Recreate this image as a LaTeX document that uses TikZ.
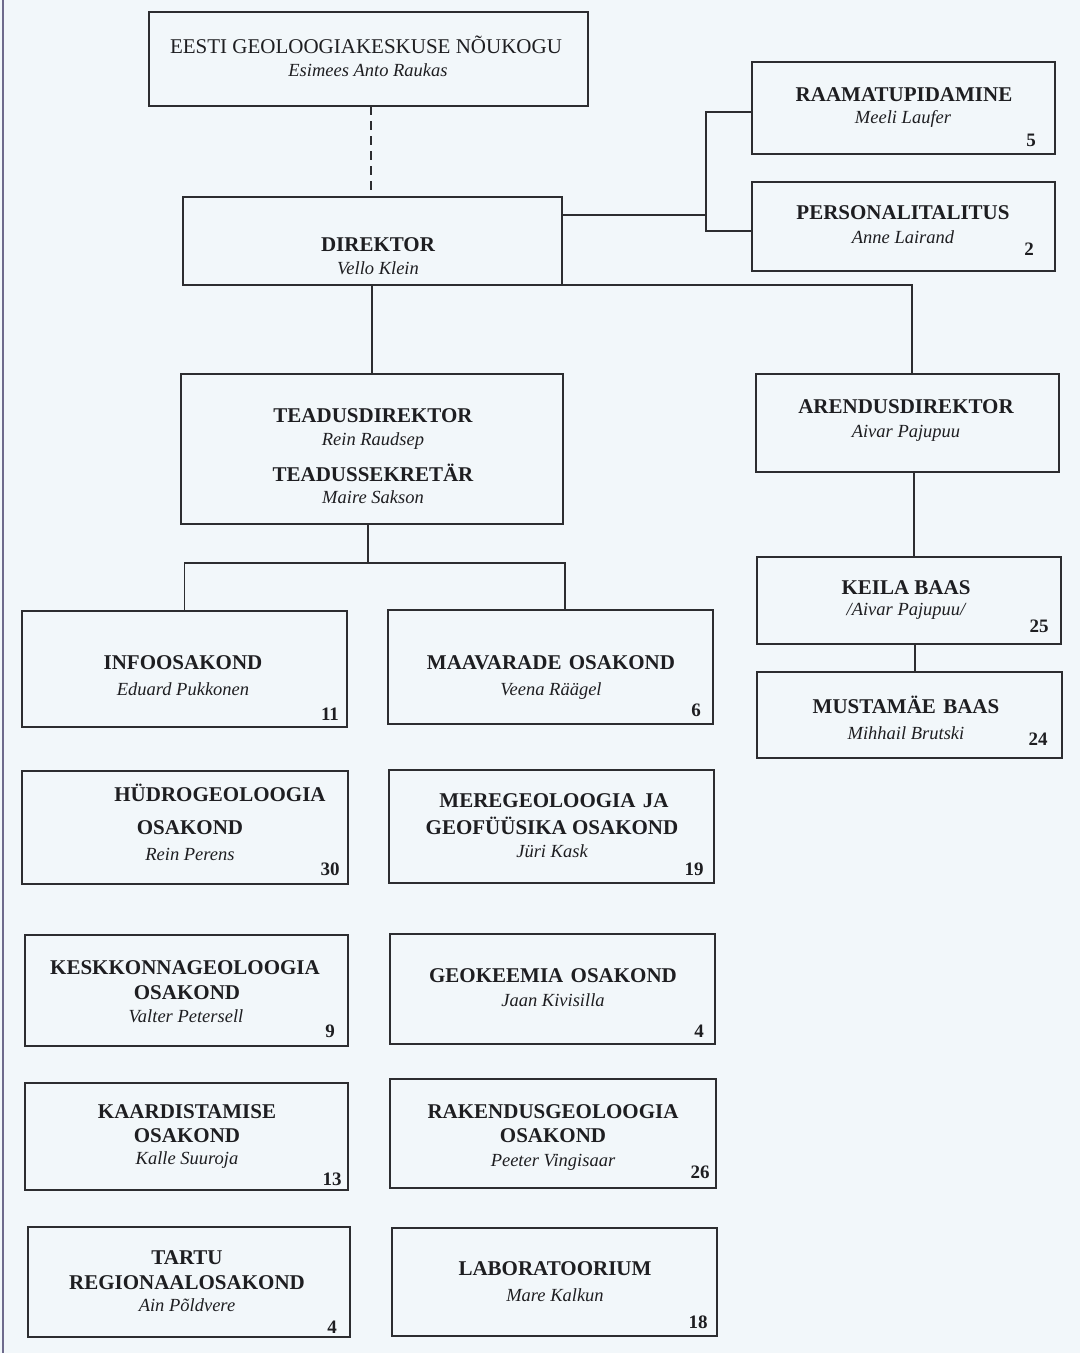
\documentclass[tikz,border=0pt]{standalone}
\usepackage{fontspec}
\setmainfont{Liberation Serif}
\definecolor{paper}{RGB}{242,247,250}
\definecolor{linec}{RGB}{45,45,48}
\definecolor{txt}{RGB}{30,30,33}
\definecolor{edge}{RGB}{110,106,140}
\newcommand\orgbox[5]{\node[box, minimum width={(#4-#2)*1pt}, minimum height={(#5-#3)*1pt}] (#1) at ({(#2+#4)/2},{(#3+#5)/2}) {};}
\newcommand\tx[4]{\node[#1] (#2) at (#3) {#4};}
\newcommand\gap{\hspace{0.35em}}
\tikzset{
  box/.style={draw=linec, line width=1.6pt, inner sep=0pt, outer sep=0pt, rectangle},
  conn/.style={draw=linec, line width=1.5pt},
  ttl/.style={font=\fontsize{21}{24}\selectfont\bfseries, anchor=base, inner sep=0pt, text=txt},
  ttlr/.style={font=\fontsize{21}{24}\selectfont, anchor=base, inner sep=0pt, text=txt},
  nm/.style={font=\fontsize{18.5}{21}\selectfont\itshape, anchor=base, inner sep=0pt, text=txt},
  num/.style={font=\fontsize{19}{22}\selectfont\bfseries, anchor=base, inner sep=0pt, text=txt}
}
\begin{document}
\begin{tikzpicture}[x=1pt,y=-1pt]
\fill[paper] (0,0) rectangle (1080,1353);
\useasboundingbox (0,0) rectangle (1080,1353);
\draw[edge, line width=1.5pt] (3,0) -- (3,1353);

% boxes
\orgbox{nou}{149}{12}{588}{106}
\orgbox{dir}{183}{197}{562}{285}
\orgbox{raam}{752}{62}{1055}{154}
\orgbox{pers}{752}{182}{1055}{271}
\orgbox{tead}{181}{374}{563}{524}
\orgbox{arend}{756}{374}{1059}{472}
\orgbox{keila}{757}{557}{1061}{644}
\orgbox{must}{757}{672}{1062}{758}
\orgbox{info}{22}{611}{347}{727}
\orgbox{maav}{388}{610}{713}{724}
\orgbox{hydro}{22}{771}{348}{884}
\orgbox{mere}{389}{770}{714}{883}
\orgbox{kesk}{25}{935}{348}{1046}
\orgbox{geok}{390}{934}{715}{1044}
\orgbox{kaard}{25}{1083}{348}{1190}
\orgbox{rak}{390}{1079}{716}{1188}
\orgbox{tartu}{28}{1227}{350}{1337}
\orgbox{lab}{392}{1228}{717}{1336}

% connectors
\coordinate (cd) at (371,0);
\draw[conn, dash pattern=on 9pt off 6pt] (nou.south -| cd) -- (dir.north -| cd);
\draw[conn] (dir.south -| 372,0) -- (tead.north -| 372,0);
\coordinate (j1) at (706,215);
\coordinate (ja) at (706,112);
\coordinate (jb) at (706,231);
\draw[conn] (dir.east |- j1) -- (j1);
\draw[conn] (raam.west |- ja) -- (ja) -- (jb) -- (pers.west |- jb);
\coordinate (j2) at (912,285);
\draw[conn] (dir.south east) -- (j2) -- (j2 |- arend.north);
\coordinate (k1) at (914,0);
\draw[conn] (arend.south -| k1) -- (keila.north -| k1);
\coordinate (k2) at (915,0);
\draw[conn] (keila.south -| k2) -- (must.north -| k2);
\coordinate (h) at (368,563);
\coordinate (hr) at (565,563);
\draw[conn] (tead.south -| h) -- (h);
\draw[conn] (info.north) -- (info.north |- h) -- (hr) -- (hr |- maav.north);

% texts
\tx{ttlr}{t1}{366,53}{EESTI GEOLOOGIAKESKUSE NÕUKOGU}
\tx{nm}{t2}{368,76}{Esimees Anto Raukas}
\tx{ttl}{t3}{378,251}{DIREKTOR}
\tx{nm}{t4}{378,274}{Vello Klein}
\tx{ttl}{t5}{904,101}{RAAMATUPIDAMINE}
\tx{nm}{t6}{903,123}{Meeli Laufer}
\tx{num}{t7}{1031,146}{5}
\tx{ttl}{t8}{903,219}{PERSONALITALITUS}
\tx{nm}{t9}{903,243}{Anne Lairand}
\tx{num}{t10}{1029,255}{2}
\tx{ttl}{t11}{373,422}{TEADUSDIREKTOR}
\tx{nm}{t12}{373,445}{Rein Raudsep}
\tx{ttl}{t13}{373,481}{TEADUSSEKRETÄR}
\tx{nm}{t14}{373,503}{Maire Sakson}
\tx{ttl}{t15}{906,413}{ARENDUSDIREKTOR}
\tx{nm}{t16}{906,437}{Aivar Pajupuu}
\tx{ttl}{t17}{906,594}{KEILA BAAS}
\tx{nm}{t18}{906,615}{/Aivar Pajupuu/}
\tx{num}{t19}{1039,632}{25}
\tx{ttl}{t20}{906,713}{MUSTAMÄE\gap BAAS}
\tx{nm}{t21}{906,739}{Mihhail Brutski}
\tx{num}{t22}{1038,745}{24}
\tx{ttl}{t23}{183,669}{INFOOSAKOND}
\tx{nm}{t24}{183,695}{Eduard Pukkonen}
\tx{num}{t25}{330,720}{11}
\tx{ttl}{t26}{551,669}{MAAVARADE\gap OSAKOND}
\tx{nm}{t27}{551,695}{Veena Räägel}
\tx{num}{t28}{696,716}{6}
\tx{ttl}{t29}{220,801}{HÜDROGEOLOOGIA}
\tx{ttl}{t30}{190,834}{OSAKOND}
\tx{nm}{t31}{190,860}{Rein Perens}
\tx{num}{t32}{330,875}{30}
\tx{ttl}{t33}{554,807}{MEREGEOLOOGIA\gap JA}
\tx{ttl}{t34}{552,834}{GEOFÜÜSIKA OSAKOND}
\tx{nm}{t35}{552,857}{Jüri Kask}
\tx{num}{t36}{694,875}{19}
\tx{ttl}{t37}{185,974}{KESKKONNAGEOLOOGIA}
\tx{ttl}{t38}{187,999}{OSAKOND}
\tx{nm}{t39}{186,1022}{Valter Petersell}
\tx{num}{t40}{330,1037}{9}
\tx{ttl}{t41}{553,982}{GEOKEEMIA\gap OSAKOND}
\tx{nm}{t42}{553,1006}{Jaan Kivisilla}
\tx{num}{t43}{699,1037}{4}
\tx{ttl}{t44}{187,1118}{KAARDISTAMISE}
\tx{ttl}{t45}{187,1142}{OSAKOND}
\tx{nm}{t46}{187,1164}{Kalle Suuroja}
\tx{num}{t47}{332,1185}{13}
\tx{ttl}{t48}{553,1118}{RAKENDUSGEOLOOGIA}
\tx{ttl}{t49}{553,1142}{OSAKOND}
\tx{nm}{t50}{553,1166}{Peeter Vingisaar}
\tx{num}{t51}{700,1178}{26}
\tx{ttl}{t52}{187,1264}{TARTU}
\tx{ttl}{t53}{187,1289}{REGIONAALOSAKOND}
\tx{nm}{t54}{187,1311}{Ain Põldvere}
\tx{num}{t55}{332,1333}{4}
\tx{ttl}{t56}{555,1275}{LABORATOORIUM}
\tx{nm}{t57}{555,1301}{Mare Kalkun}
\tx{num}{t58}{698,1328}{18}
\end{tikzpicture}
\end{document}
